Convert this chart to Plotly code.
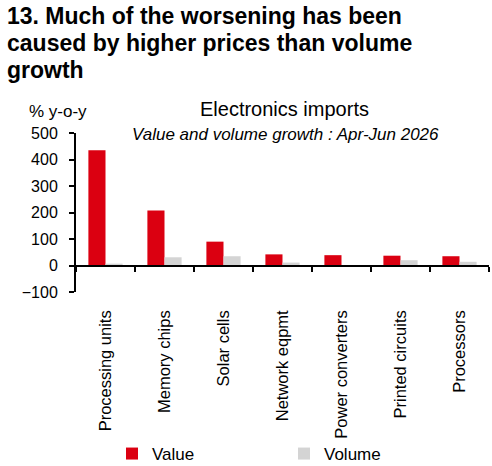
import plotly.graph_objects as go

# Electronics imports, Apr-Jun 2026, % y-o-y
categories = [
    "Processing units", "Memory chips", "Solar cells", "Network eqpmt",
    "Power converters", "Printed circuits", "Processors",
]
value_growth = [435, 208, 90, 42, 39, 37, 35]
volume_growth = [7, 31, 35, 11, 1, 20, 14]

y_ticks = [-100, 0, 100, 200, 300, 400, 500]
y_range = [-100, 500]

title_lines = [
    "13. Much of the worsening has been",
    "caused by higher prices than volume",
    "growth",
]

RED = "#DB0011"
GREY = "#D4D4D4"
FONT = "Liberation Sans, Arial, sans-serif"

# plot area in page pixels: x 76..489, y 133..292
L, R, T, B = 76, 489, 133, 292


def px_x(x):
    return (x - L) / (R - L)


def px_y(y):
    return (B - y) / (B - T)


fig = go.Figure()
fig.add_trace(go.Bar(x=categories, y=value_growth, name="Value",
                     marker_color=RED, marker_line_width=0))
fig.add_trace(go.Bar(x=categories, y=volume_growth, name="Volume",
                     marker_color=GREY, marker_line_width=0))
# invisible helper so the zero-line axis gets its category ticks
fig.add_trace(go.Scatter(x=categories, y=value_growth, xaxis="x2",
                         mode="markers", opacity=0, showlegend=False,
                         hoverinfo="skip"))

zero_pos = (0 - y_range[0]) / (y_range[1] - y_range[0])

annotations = []
for i, line in enumerate(title_lines):
    annotations.append(dict(
        text="<b>" + line + "</b>", xref="paper", yref="paper",
        x=px_x(5), y=px_y(16 + 27 * i), xanchor="left", yanchor="middle",
        showarrow=False, font=dict(size=23),
    ))
annotations += [
    dict(text="% y-o-y", xref="paper", yref="paper",
         x=px_x(27), y=px_y(100), xanchor="left", yanchor="top",
         showarrow=False, font=dict(size=17)),
    dict(text="Electronics imports", xref="paper", yref="paper",
         x=px_x(284), y=px_y(96), xanchor="center", yanchor="top",
         showarrow=False, font=dict(size=20)),
    dict(text="<i>Value and volume growth : Apr-Jun 2026</i>",
         xref="paper", yref="paper", x=px_x(285), y=px_y(123),
         xanchor="center", yanchor="top", showarrow=False,
         font=dict(size=17)),
]

fig.update_layout(
    width=492, height=466,
    margin=dict(l=L, r=492 - R, t=T, b=466 - B, autoexpand=False),
    paper_bgcolor="white", plot_bgcolor="white",
    font=dict(family=FONT, size=17, color="black"),
    barmode="group", bargap=0.42, bargroupgap=0,
    xaxis=dict(
        type="category", categoryorder="array", categoryarray=categories,
        range=[-0.5, len(categories) - 0.5], automargin=False,
        showline=False, ticks="", showgrid=False, tickangle=-90,
        tickfont=dict(size=16.5), ticklabelstandoff=14, ticklabelshift=0,
    ),
    xaxis2=dict(
        type="category", categoryorder="array", categoryarray=categories,
        range=[-0.5, len(categories) - 0.5], automargin=False,
        overlaying="x", anchor="free", position=zero_pos, side="bottom",
        showline=True, linecolor="black", linewidth=2,
        ticks="outside", tickson="boundaries", ticklen=5, tickwidth=2,
        tickcolor="black", showticklabels=False, showgrid=False,
    ),
    yaxis=dict(
        range=y_range, tickvals=y_ticks, showgrid=False, zeroline=False,
        showline=True, linecolor="black", linewidth=2, automargin=False,
        ticks="outside", ticklen=5, tickwidth=2, tickcolor="black",
        ticklabelstandoff=8, tickfont=dict(size=16),
    ),
    legend=dict(
        orientation="h", x=px_x(112), y=px_y(454), xanchor="left",
        yanchor="middle", entrywidth=127, font=dict(size=17),
        traceorder="normal", bgcolor="rgba(0,0,0,0)",
    ),
    annotations=annotations,
)

fig.write_html("out.html", config={"displayModeBar": False},
               post_script="document.body.style.margin='0';")
